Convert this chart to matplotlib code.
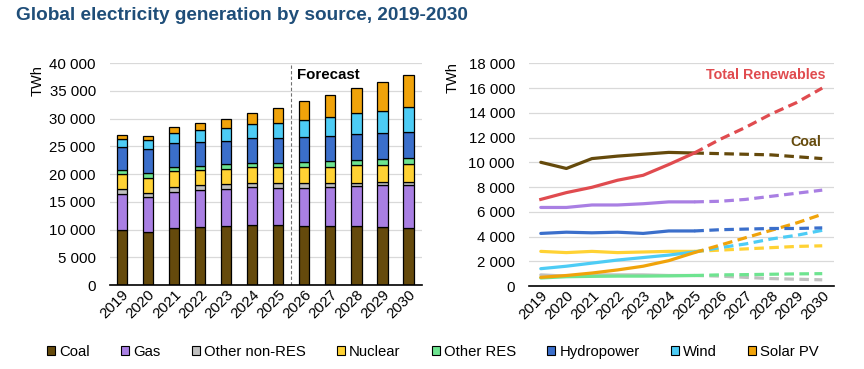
import numpy as np
import matplotlib
matplotlib.use("Agg")
import matplotlib.pyplot as plt
from matplotlib.patches import Patch

plt.rcParams['font.family'] = ['Liberation Sans', 'DejaVu Sans']

######################################################
# Data (TWh)
years = ['2019', '2020', '2021', '2022', '2023', '2024', '2025',
         '2026', '2027', '2028', '2029', '2030']
coal = [10000, 9500, 10300, 10500, 10650, 10800, 10750, 10700, 10650, 10600, 10450, 10300]
gas = [6350, 6350, 6550, 6550, 6650, 6800, 6800, 6850, 7000, 7250, 7500, 7750]
other_nonres = [900, 800, 900, 900, 900, 850, 850, 800, 700, 600, 550, 500]
nuclear = [2800, 2700, 2800, 2700, 2750, 2800, 2800, 2900, 3000, 3100, 3200, 3250]
other_res = [650, 750, 780, 800, 800, 820, 850, 900, 920, 950, 980, 1000]
hydro = [4250, 4350, 4300, 4350, 4250, 4450, 4450, 4550, 4600, 4650, 4650, 4700]
wind = [1400, 1600, 1850, 2100, 2300, 2500, 2750, 3100, 3400, 3800, 4100, 4500]
solar = [700, 850, 1050, 1300, 1600, 2050, 2700, 3300, 3900, 4500, 5100, 5800]

names = ['Coal', 'Gas', 'Other non-RES', 'Nuclear', 'Other RES',
         'Hydropower', 'Wind', 'Solar PV']
series = [coal, gas, other_nonres, nuclear, other_res, hydro, wind, solar]
colors = ['#654A0C', '#A97FE3', '#C0C0C0', '#FFD234', '#6EE490',
          '#3B6FCB', '#4DCCF5', '#F0A30A']
renew_color = '#E04B4F'

# total renewables = hydro + wind + solar + other RES
renewables = np.array(hydro) + np.array(wind) + np.array(solar) + np.array(other_res)

title_color = '#1F4E79'
grid_color = '#D9D9D9'
n_hist = 7  # 2019-2025 actuals, rest forecast
dash = (0, (3, 1.7))

fig = plt.figure(figsize=(8.64, 3.69), dpi=100)
fig.text(0.019, 0.945, 'Global electricity generation by source, 2019-2030',
         fontsize=13.7, fontweight='bold', color=title_color)

#########################################################
# Left: stacked bars
ax1 = fig.add_axes([0.127, 0.2276, 0.362, 0.6016])
x = np.arange(len(years))
bottom = np.zeros(len(years))
for name, vals, c in zip(names, series, colors):
    ax1.bar(x, vals, width=0.4, bottom=bottom, color=c,
            edgecolor='black', linewidth=0.9, zorder=3)
    bottom += np.array(vals)

ax1.set_ylim(0, 40000)
ax1.set_xlim(-0.46, len(years) - 0.46)
ax1.set_yticks(np.arange(0, 40001, 5000))
ax1.set_yticklabels([f'{v:,}'.replace(',', ' ') for v in range(0, 40001, 5000)])
ax1.set_xticks(x)
ax1.set_xticklabels(years, rotation=45, ha='right', rotation_mode='anchor')
ax1.grid(axis='y', color=grid_color, linewidth=0.9, zorder=0)
ax1.set_ylabel('TWh', fontsize=10.5)
ax1.yaxis.set_label_coords(-0.207, 0.923)
ax1.axvline(n_hist - 0.5, color='#707070', linestyle=(0, (3, 2)), linewidth=0.8, zorder=4)
ax1.text(6.74, 37840, 'Forecast', fontsize=10.8, fontweight='bold', va='center')

#########################################################
# Right: lines, solid for actuals, dashed for forecast
ax2 = fig.add_axes([0.612, 0.2249, 0.353, 0.6035])
for i in [2, 4, 3, 6, 7, 5, 1, 0]:
    vals = series[i]
    ax2.plot(x[:n_hist], vals[:n_hist], color=colors[i], linewidth=2.3,
             solid_capstyle='round', zorder=3)
    ax2.plot(x[n_hist - 1:], vals[n_hist - 1:], color=colors[i], linewidth=2.3,
             linestyle=dash, zorder=3)
ax2.plot(x[:n_hist], renewables[:n_hist], color=renew_color, linewidth=2.3, zorder=4)
ax2.plot(x[n_hist - 1:], renewables[n_hist - 1:], color=renew_color, linewidth=2.3,
         linestyle=dash, zorder=4)

ax2.text(11.13, 17055, 'Total Renewables', color=renew_color, fontsize=10.3,
         fontweight='bold', ha='right', va='center')
ax2.text(10.98, 11640, 'Coal', color=colors[0], fontsize=10.3,
         fontweight='bold', ha='right', va='center')

ax2.set_ylim(0, 18000)
ax2.set_xlim(-0.47, len(years) - 0.55)
ax2.set_yticks(np.arange(0, 18001, 2000))
ax2.set_yticklabels([f'{v:,}'.replace(',', ' ') for v in range(0, 18001, 2000)])
ax2.set_xticks(x)
ax2.set_xticklabels(years, rotation=45, ha='right', rotation_mode='anchor')
ax2.grid(axis='y', color=grid_color, linewidth=0.9, zorder=0)
ax2.set_ylabel('TWh', fontsize=10.5)
ax2.yaxis.set_label_coords(-0.226, 0.934)

for ax in (ax1, ax2):
    for s in ('top', 'right', 'left'):
        ax.spines[s].set_visible(False)
    ax.spines['bottom'].set_color('black')
    ax.spines['bottom'].set_linewidth(1.2)
    ax.spines['bottom'].set_zorder(5)
    ax.tick_params(length=0, labelsize=10.8)
    ax.tick_params(axis='y', pad=10)
    ax.tick_params(axis='x', pad=2)

#########################################################
# Legend along the bottom
handles = [Patch(facecolor=c, edgecolor='black', linewidth=0.8) for c in colors]
fig.legend(handles, names, loc='center', bbox_to_anchor=(0.501, 0.046),
           ncol=8, frameon=False, fontsize=10.7, handlelength=0.55, handleheight=0.55,
           handletextpad=0.27, columnspacing=2.1)

fig.savefig('out.png', dpi=100)
